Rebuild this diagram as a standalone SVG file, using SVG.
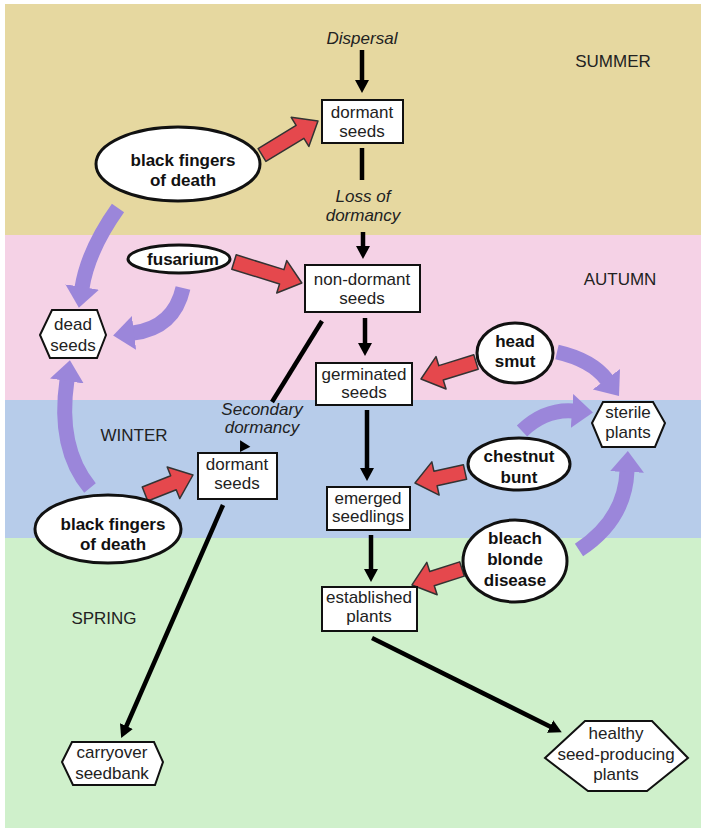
<svg xmlns="http://www.w3.org/2000/svg" width="701" height="829" viewBox="0 0 701 829">
<defs>
<style>
text{font-family:"Liberation Sans",Arial,sans-serif;font-size:17px;fill:#222;text-anchor:middle}
.b{font-weight:bold;fill:#111}
.i{font-style:italic}
.box{fill:#fff;stroke:#111;stroke-width:2}
.ell{fill:#fff;stroke:#111;stroke-width:3}
.hex{fill:#fff;stroke:#111;stroke-width:2}
.blk{fill:none;stroke:#000;stroke-width:4.5}
.pur{fill:none;stroke:#9b86da;stroke-width:15}
.red{fill:#e5484d;stroke:#333;stroke-width:1.5;stroke-linejoin:round}
</style>
<marker id="ah" markerUnits="userSpaceOnUse" markerWidth="13" markerHeight="14" viewBox="0 0 13 14" refX="1" refY="7" orient="auto"><path d="M0,0 L13,7 L0,14 z" fill="#000"/></marker>
<marker id="ph" markerUnits="userSpaceOnUse" markerWidth="21" markerHeight="34" viewBox="0 0 21 34" refX="1" refY="17" orient="auto"><path d="M0,0 L21,17 L0,34 z" fill="#9b86da"/></marker>
</defs>
<rect x="5" y="4" width="696" height="231" fill="#e6d8a0"/>
<rect x="5" y="235" width="696" height="165" fill="#f5d2e6"/>
<rect x="5" y="400" width="696" height="138" fill="#b7ccea"/>
<rect x="5" y="538" width="696" height="290" fill="#cff0cb"/>
<g id="seasons">
<text x="613" y="67">SUMMER</text>
<text x="620" y="285">AUTUMN</text>
<text x="134" y="441">WINTER</text>
<text x="104" y="624">SPRING</text>
</g>
<g id="connectors">
<path class="blk" d="M362,50 V81" marker-end="url(#ah)"/>
<path class="blk" d="M362,148 V180"/>
<path class="blk" d="M363,232 V247" marker-end="url(#ah)"/>
<path class="blk" d="M365,318 V344" marker-end="url(#ah)"/>
<path class="blk" d="M367,410 V469" marker-end="url(#ah)"/>
<path class="blk" d="M371,535 V570" marker-end="url(#ah)"/>
<path class="blk" d="M372,638 L551,727" marker-end="url(#ah)"/>
<path class="blk" d="M322,321 L272,402"/>
<polygon points="240,452 250.4,446.7 240.1,440.3" fill="#000"/>
<path class="blk" d="M223,505 L126,727" marker-end="url(#ah)"/>
<path class="pur" d="M118,208 Q88,250 82,288" marker-end="url(#ph)"/>
<path class="pur" d="M183,288 Q174,328 133,333" marker-end="url(#ph)"/>
<path class="pur" d="M90,488 Q57,448 67,380" marker-end="url(#ph)"/>
<path class="pur" d="M557,352 Q592,360 607,380" marker-end="url(#ph)"/>
<path class="pur" d="M522,431 Q545,409 573,411" marker-end="url(#ph)"/>
<path class="pur" d="M579,550 Q625,520 627,471" marker-end="url(#ph)"/>
<polygon class="red" transform="translate(262,155) rotate(-31.3)" points="0,-7.5 44.5,-7.5 44.5,-17 65.5,0 44.5,17 44.5,7.5 0,7.5"/>
<polygon class="red" transform="translate(234,262) rotate(17.2)" points="0,-7.5 50,-7.5 50,-17 71,0 50,17 50,7.5 0,7.5"/>
<polygon class="red" transform="translate(145,494) rotate(-21.6)" points="0,-7.5 30.6,-7.5 30.6,-17 51.6,0 30.6,17 30.6,7.5 0,7.5"/>
<polygon class="red" transform="translate(476,362) rotate(162.8)" points="0,-7.5 36.6,-7.5 36.6,-17 57.6,0 36.6,17 36.6,7.5 0,7.5"/>
<polygon class="red" transform="translate(465,472) rotate(167.6)" points="0,-7.5 30.2,-7.5 30.2,-17 51.2,0 30.2,17 30.2,7.5 0,7.5"/>
<polygon class="red" transform="translate(462,569) rotate(162.3)" points="0,-7.5 31.5,-7.5 31.5,-17 52.5,0 31.5,17 31.5,7.5 0,7.5"/>
</g>
<g id="dispersal"><text class="i" x="362" y="44">Dispersal</text></g>
<g id="loss"><text class="i" x="363" y="202">Loss of</text><text class="i" x="363" y="221">dormancy</text></g>
<g id="secondary"><text class="i" x="262" y="415">Secondary</text><text class="i" x="262" y="433">dormancy</text></g>
<g id="dormant1"><rect class="box" x="322" y="100" width="81" height="43"/><text x="362" y="118">dormant</text><text x="362" y="137">seeds</text></g>
<g id="nondormant"><rect class="box" x="305" y="265" width="115" height="47"/><text x="362" y="285">non-dormant</text><text x="362" y="304">seeds</text></g>
<g id="germinated"><rect class="box" x="316" y="363" width="96" height="42"/><text x="364" y="380">germinated</text><text x="364" y="398">seeds</text></g>
<g id="emerged"><rect class="box" x="327" y="487" width="83" height="43"/><text x="368" y="504">emerged</text><text x="368" y="522">seedlings</text></g>
<g id="established"><rect class="box" x="322" y="587" width="95" height="44"/><text x="369" y="603">established</text><text x="369" y="622">plants</text></g>
<g id="dormant2"><rect class="box" x="198" y="453" width="79" height="46"/><text x="237" y="470">dormant</text><text x="237" y="489">seeds</text></g>
<g id="bfd1"><ellipse class="ell" cx="178" cy="164" rx="82" ry="37"/><text class="b" x="183" y="166">black fingers</text><text class="b" x="183" y="186">of death</text></g>
<g id="fusarium"><ellipse class="ell" cx="179" cy="259" rx="51" ry="14"/><text class="b" x="183" y="265">fusarium</text></g>
<g id="bfd2"><ellipse class="ell" cx="108" cy="529" rx="73" ry="34"/><text class="b" x="113" y="530">black fingers</text><text class="b" x="113" y="550">of death</text></g>
<g id="headsmut"><ellipse class="ell" cx="515" cy="353" rx="38" ry="30"/><text class="b" x="515" y="347">head</text><text class="b" x="515" y="367">smut</text></g>
<g id="chestnut"><ellipse class="ell" cx="519" cy="464" rx="51" ry="26"/><text class="b" x="519" y="462">chestnut</text><text class="b" x="519" y="483">bunt</text></g>
<g id="bleach"><ellipse class="ell" cx="515" cy="561" rx="52" ry="41"/><text class="b" x="515" y="544">bleach</text><text class="b" x="515" y="565">blonde</text><text class="b" x="515" y="586">disease</text></g>
<g id="dead"><polygon class="hex" points="40,335 52,310 97,310 106,335 97,358 50,358"/><text x="73" y="330">dead</text><text x="73" y="351">seeds</text></g>
<g id="sterile"><polygon class="hex" points="592,423 603,402 653,402 665,423 655,447 602,447"/><text x="628" y="418">sterile</text><text x="628" y="438">plants</text></g>
<g id="carryover"><polygon class="hex" points="62,762 72,742 154,742 163,762 155,785 73,785"/><text x="112" y="758">carryover</text><text x="112" y="779">seedbank</text></g>
<g id="healthy"><polygon class="hex" points="545,758 585,721 652,721 688,758 647,791 588,791"/><text x="616" y="739">healthy</text><text x="616" y="760">seed-producing</text><text x="616" y="780">plants</text></g>
</svg>
